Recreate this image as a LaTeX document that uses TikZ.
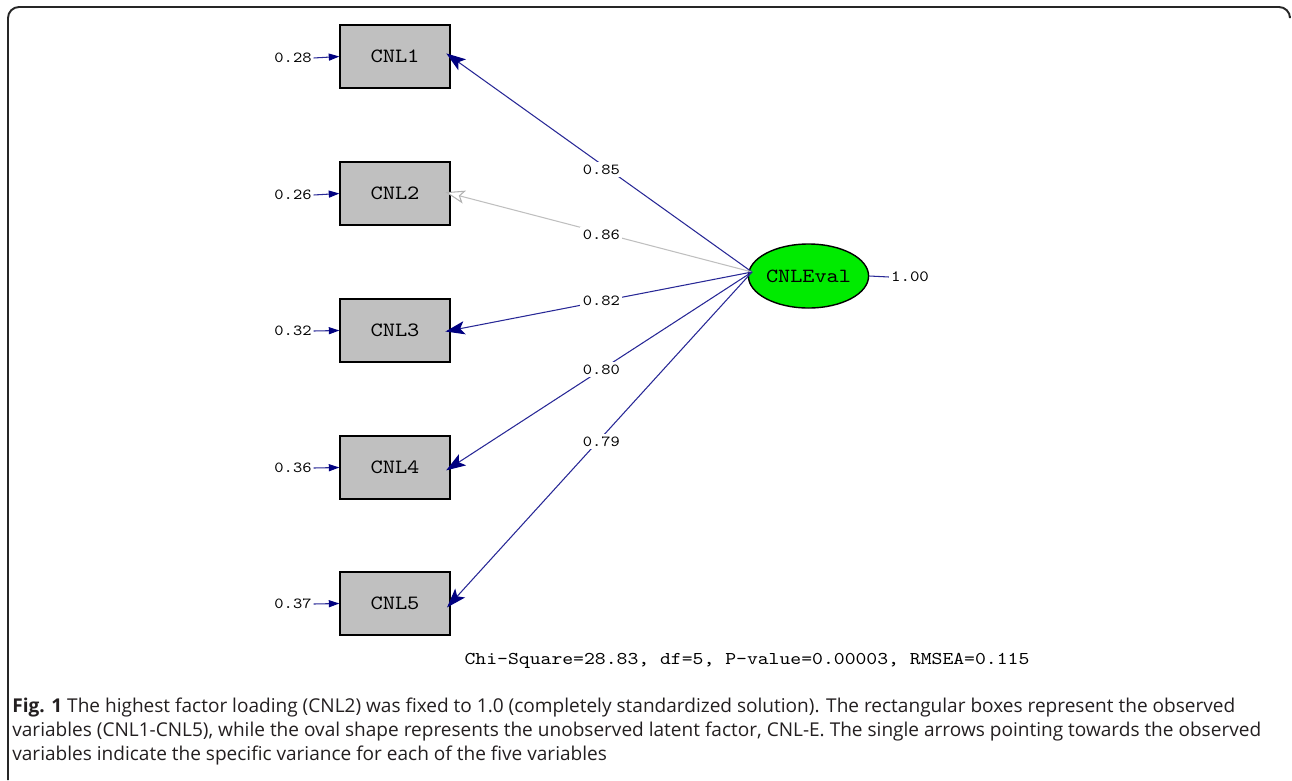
\documentclass[tikz,border=0pt]{standalone}
\usepackage{fontspec}
\setmainfont{Open Sans}
\newfontfamily\lisrel[FakeStretch=1.15]{lmmono10-regular.otf}
\usetikzlibrary{arrows.meta,shapes.geometric}
\definecolor{pathblue}{RGB}{40,40,150}
\definecolor{tipblue}{RGB}{0,0,128}
\definecolor{boxgrey}{RGB}{192,192,192}
\definecolor{latgreen}{RGB}{0,235,0}
\definecolor{capgrey}{RGB}{35,31,32}
\begin{document}
\begin{tikzpicture}[x=0.567pt,y=-0.567pt,
  obsbox/.style={draw=black,line width=0.7pt,fill=boxgrey,minimum width=110*0.567pt,
    minimum height=63*0.567pt,inner sep=0pt,font=\lisrel\fontsize{11.5}{13}\selectfont},
  latent/.style={ellipse,draw=black,line width=0.8pt,fill=latgreen,minimum width=113*0.567pt,
    minimum height=64*0.567pt,inner sep=0pt,font=\lisrel\fontsize{11.4}{13}\selectfont},
  errlab/.style={inner sep=1pt,font=\lisrel\fontsize{8.7}{10}\selectfont},
  loadlab/.style={fill=white,inner sep=1.5pt,font=\lisrel\fontsize{8.7}{10}\selectfont},
  loading/.style={draw=pathblue,line width=0.6pt,-{Stealth[length=11pt,width=7.5pt,inset=2.5pt,fill=tipblue,color=tipblue]},shorten >=-3pt},
  fixedload/.style={draw=black!25,line width=0.6pt,-{Stealth[length=11pt,width=7.5pt,inset=2.5pt,open,fill=white,color=black!30]},shorten >=-3pt},
  errarrow/.style={draw=pathblue,line width=0.6pt,-{Stealth[length=6pt,width=4pt,inset=0pt,color=tipblue]}},
]
\useasboundingbox (0,0) rectangle (1292,780);

% outer frame
\draw[line width=1.1pt,color=black!85,rounded corners=11*0.567pt] (8,780) -- (8,7) -- (1290,7) -- (1290,16);

% observed variables
\node[obsbox] (b1) at (395,56.5) {CNL1};
\node[obsbox] (b2) at (395,193.5) {CNL2};
\node[obsbox] (b3) at (395,330.5) {CNL3};
\node[obsbox] (b4) at (395,467.5) {CNL4};
\node[obsbox] (b5) at (395,603.5) {CNL5};

% error variances
\node[errlab] (e1) at (293,58) {0.28};
\node[errlab] (e2) at (293,195) {0.26};
\node[errlab] (e3) at (293,331) {0.32};
\node[errlab] (e4) at (293,468) {0.36};
\node[errlab] (e5) at (293,604) {0.37};
\foreach \i in {1,...,5} \draw[errarrow] (e\i.east) -- (b\i.west);

% latent factor
\node[latent] (lat) at (808.5,276) {CNLEval};
\node[errlab,font=\lisrel\fontsize{8.9}{10}\selectfont] (lv) at (910,277) {1.00};
\draw[pathblue,line width=0.6pt] (lat.east) -- (lv.west);

\coordinate (src) at (752,272);

% loadings
\draw[loading] (src) -- node[loadlab,pos=0.5,yshift=-3pt] {0.85} (b1.east);
\draw[fixedload] (src) -- node[loadlab,pos=0.5,yshift=-1pt] {0.86} (b2.east);
\draw[loading] (src) -- node[loadlab,pos=0.5] {0.82} (b3.east);
\draw[loading] (src) -- node[loadlab,pos=0.5] {0.80} (b4.east);
\draw[loading] (src) -- node[loadlab,pos=0.5,yshift=-2pt] {0.79} (b5.east);

% fit statistics
\node[font=\lisrel\fontsize{10.2}{12}\selectfont] (fit) at (747,661) {Chi-Square=28.83, df=5, P-value=0.00003, RMSEA=0.115};

% caption
\begin{scope}[every node/.style={anchor=base west,inner sep=0pt,color=capgrey,font=\fontsize{10.8}{13}\selectfont}]
\node (c1) at (12,712) {\textbf{Fig. 1} The highest factor loading (CNL2) was fixed to 1.0 (completely standardized solution). The rectangular boxes represent the observed};
\node (c2) at (12,736) {variables (CNL1-CNL5), while the oval shape represents the unobserved latent factor, CNL-E. The single arrows pointing towards the observed};
\node (c3) at (12,760) {variables indicate the specific variance for each of the five variables};
\end{scope}
\end{tikzpicture}
\end{document}
